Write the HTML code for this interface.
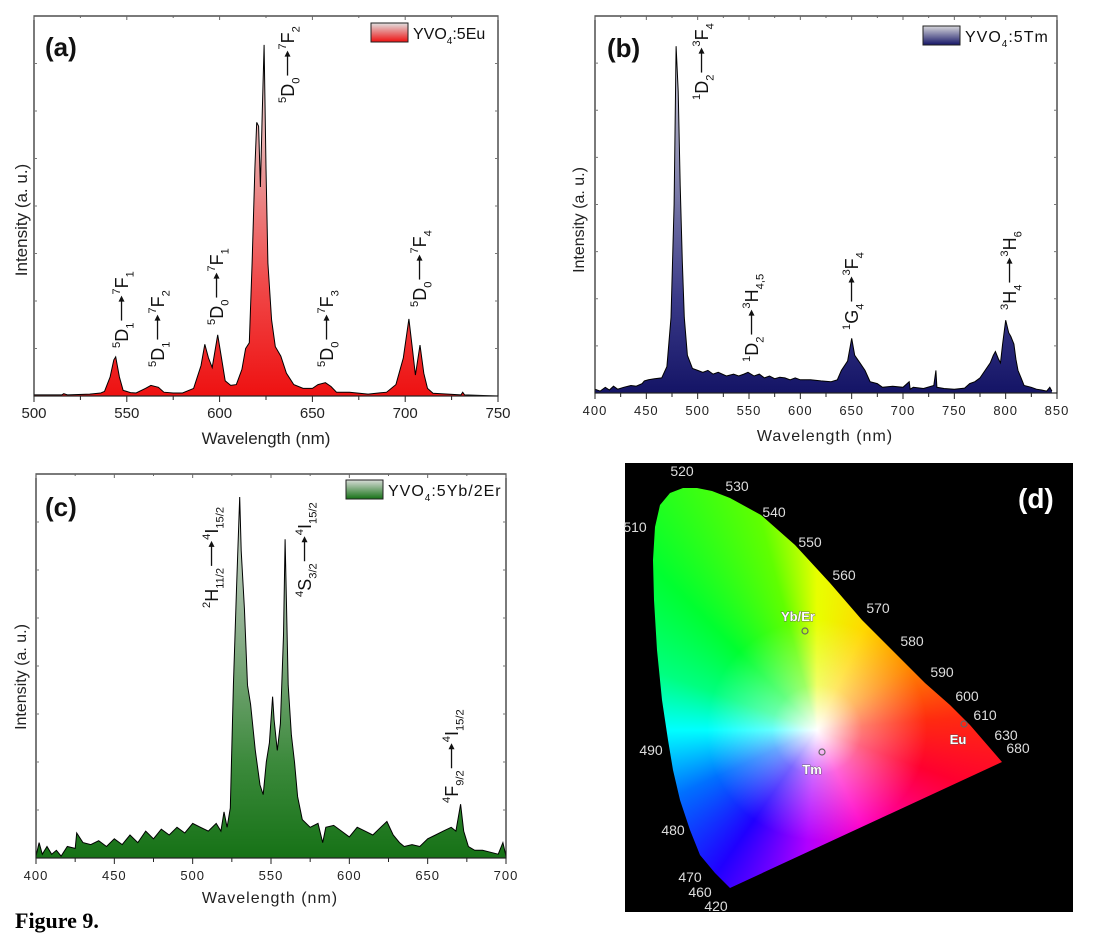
<!DOCTYPE html>
<html><head><meta charset="utf-8">
<style>
html,body{margin:0;padding:0;background:#fff;}
#wrap{position:relative;width:1118px;height:946px;overflow:hidden;}
#cie-bg{position:absolute;left:625px;top:463px;width:448px;height:449px;background:#000;}
#cie-gamut{position:absolute;left:625px;top:463px;width:448px;height:449px;
 background:radial-gradient(circle at 192px 267px, rgba(255,255,255,1) 0px, rgba(255,255,255,0.85) 12px, rgba(255,255,255,0.4) 45px, rgba(255,255,255,0) 110px),
 conic-gradient(from 0deg at 192px 267px, #e8ff00 0deg, #ffd800 25deg, #ff8a00 55deg, #ff2a10 85deg, #ff0030 110deg, #ff00c8 155deg, #b000ff 185deg, #2000ff 215deg, #0070ff 245deg, #00ffff 270deg, #00ff80 290deg, #00ff30 315deg, #60ff00 345deg, #e8ff00 360deg);}
svg{position:absolute;left:0;top:0;}
text{font-family:"Liberation Sans",sans-serif;}
</style></head>
<body>
<div id="wrap">
<div id="cie-bg"></div>
<div id="cie-gamut"></div>
<svg id="svg" width="1118" height="946" viewBox="0 0 1118 946" xmlns="http://www.w3.org/2000/svg">
<defs>
<linearGradient id="gA" gradientUnits="userSpaceOnUse" x1="0" y1="16" x2="0" y2="396">
<stop offset="0" stop-color="#e6e6e6"/><stop offset="0.35" stop-color="#e8a8a8"/><stop offset="0.7" stop-color="#f04a4a"/><stop offset="1" stop-color="#ee1111"/></linearGradient>
<linearGradient id="gB" gradientUnits="userSpaceOnUse" x1="0" y1="16" x2="0" y2="393">
<stop offset="0" stop-color="#e0e0e4"/><stop offset="0.4" stop-color="#8a8ab0"/><stop offset="0.75" stop-color="#3a3a88"/><stop offset="1" stop-color="#141466"/></linearGradient>
<linearGradient id="gC" gradientUnits="userSpaceOnUse" x1="0" y1="474" x2="0" y2="858">
<stop offset="0" stop-color="#e2e6e2"/><stop offset="0.4" stop-color="#8fb08f"/><stop offset="0.75" stop-color="#3c8a3c"/><stop offset="1" stop-color="#167216"/></linearGradient>
<linearGradient id="lA" x1="0" y1="0" x2="0" y2="1"><stop offset="0" stop-color="#e0e0e0"/><stop offset="1" stop-color="#ee1111"/></linearGradient>
<linearGradient id="lB" x1="0" y1="0" x2="0" y2="1"><stop offset="0" stop-color="#d8d8dc"/><stop offset="1" stop-color="#141466"/></linearGradient>
<linearGradient id="lC" x1="0" y1="0" x2="0" y2="1"><stop offset="0" stop-color="#d8dcd8"/><stop offset="1" stop-color="#167216"/></linearGradient>
</defs>
<g id="layer"></g>
</svg>
</div>
<script>
// ---- Panel (a) data: YVO4:5Eu ----
const euWl=[500,515,516,518,530,536,538,541,543,544,546,548,552,555,560,563,567,570,575,580,586,590,592,594,596,599,601,603,606,609,612,614,616,617.5,619,620,621,622,623,624,625,626,628,630,633,636,640,645,650,653,657,660,663,670,680,690,695,699,702,704,705.5,708,710,712,715,730,731,732,750];
const euI=[0.3,0.3,0.6,0.3,0.5,0.8,1.2,5,9.5,10.3,5,1.5,0.9,0.8,2,2.8,2.3,1,0.8,0.8,2,8,13.6,10,7.5,16.1,10,4,2.8,3,7,12.5,14,35,60,72,71,55,75,92.4,60,35,20,13,10.5,6,3,2,2,3,3.5,2.5,1,1,0.5,1,3,10,20.3,12,5.5,13.4,6,2,0.7,0.3,1,0.3,0];
const euTicks=[500,550,600,650,700,750];
// ---- Panel (b) data: YVO4:5Tm ----
const tmWl=[400,405,410,414,418,422,428,435,440,446,448,452,458,465,470,474,477,479,481,483,485,487,490,495,500,505,510,515,520,528,535,540,545,549,555,560,565,570,575,580,585,590,595,600,610,620,630,636,640,646,650,653,658,663,668,675,680,690,700,706,707,710,720,730,732,733,740,750,760,765,770,775,780,785,788,790,793,795,797,800,803,805,808,810,812,815,818,825,830,835,840,843,845];
const tmI=[1,0.5,1.5,0.8,1.8,1,1.5,2,1.8,2.5,3.2,3.5,3.8,4,7,20,50,92,80,55,35,20,10,6.5,6,5.5,6,5,5.5,4.5,5,4.5,5,5.5,4.5,5,4,4.5,3.8,4.2,4,3.5,4,3.5,3.5,3.2,3,3.5,6,8.5,14.5,10,8,6,3,2.5,1.5,1.8,1.5,3,1,1.5,1.2,2,6,1.5,1.2,1,1.3,2.5,3,4,6,8,10,11,9,8,13,19.3,16,15,13,9,6,4,2,1.5,1,0.8,0.5,1.5,0.5];
const tmTicks=[400,450,500,550,600,650,700,750,800,850];
// ---- Panel (c) data: YVO4:5Yb/2Er ----
const erWl=[400,402,404,407,410,413,416,420,425,426,430,435,440,445,450,455,460,465,470,475,480,485,490,495,500,505,510,515,518,520,522,524,526,528,530,531,533,535,537,540,543,545,547,549,551,552,554,556,558,559,561,563,565,567,570,575,580,583,585,590,595,600,605,610,615,620,624,628,632,635,640,645,650,655,660,665,668,671,673,676,680,685,690,695,698,700];
const erI=[0.5,4,1,3,1,2,0.5,3,2.5,6.5,4,3.5,4.5,3,5,3.5,6,4,7,5,7.5,6,8,6.5,9,8,7,9,7,12,8,13,45,70,94,80,65,45,40,28,19,16.5,25,30,42,36,28,35,58,83,45,32,25,16,10,8,9,4,8,8.5,7,5.5,8,7,6,8,9.5,6,4,3,3.5,3,5,6,7,8,7,14,7,3,2,2,1.5,1,4,0.5];
const erTicks=[400,450,500,550,600,650,700];

const NS='http://www.w3.org/2000/svg';
const layer=document.getElementById('layer');
function el(tag,attrs,parent){const e=document.createElementNS(NS,tag);for(const k in attrs)e.setAttribute(k,attrs[k]);(parent||layer).appendChild(e);return e;}

function panel(cfg){
  const g=el('g',{});
  
  
  const {x0,x1,y0,y1,xmin,xmax,ymax}=cfg;
  const sx=v=>x0+(v-xmin)/(xmax-xmin)*(x1-x0);
  const sy=v=>y1-v/ymax*(y1-y0);
  let d='M'+sx(cfg.wl[0])+','+y1;
  let l='';
  cfg.wl.forEach((w,i)=>{d+=' L'+sx(w).toFixed(1)+','+sy(cfg.I[i]).toFixed(1);l+=(i?' L':'M')+sx(w).toFixed(1)+','+sy(cfg.I[i]).toFixed(1);});
  d+=' L'+sx(cfg.wl[cfg.wl.length-1])+','+y1+' Z';
  const area=el('path',{d:d,fill:cfg.fill,stroke:'none'},g);
  
  
  const line=el('path',{d:l,fill:'none',stroke:'#000','stroke-width':'1'},g);
  
  
  const fr=el('rect',{x:x0,y:y0,width:x1-x0,height:y1-y0,fill:'none',stroke:'#222','stroke-width':'1.2'},g);
  
  
  const step=cfg.ticks[1]-cfg.ticks[0];
  for(let v=xmin;v<=xmax+0.01;v+=step/2){
    const major=Math.abs((v-xmin)%step)<0.01;
    el('line',{x1:sx(v),x2:sx(v),y1:y1,y2:y1+(major?6:4),stroke:'#222','stroke-width':'1'},g);
    el('line',{x1:sx(v),x2:sx(v),y1:y0,y2:y0+(major?4:2),stroke:'#666','stroke-width':'1'},g);
  }
  for(let k=1;k<8;k++){const yy=y1-k*(y1-y0)/8;
    el('line',{x1:x0,x2:x0+3,y1:yy,y2:yy,stroke:'#777','stroke-width':'1'},g);
    el('line',{x1:x1,x2:x1-3,y1:yy,y2:yy,stroke:'#777','stroke-width':'1'},g);}
  cfg.ticks.forEach(v=>{
    const t=el('text',{x:sx(v),y:y1+22,'text-anchor':'middle','font-size':cfg.tfs,fill:'#222','letter-spacing':cfg.ls},g);
    t.textContent=v;
    
    
  });
  const xt=el('text',{x:cfg.xtx,y:cfg.xty,'text-anchor':'middle','font-size':cfg.afs,fill:'#222','letter-spacing':cfg.ls},g);
  xt.textContent='Wavelength (nm)';
  
  
  const yt=el('text',{x:0,y:0,'text-anchor':'middle','font-size':cfg.afs,fill:'#222',transform:'translate('+cfg.ytx+','+cfg.yty+') rotate(-90)'},g);
  yt.textContent='Intensity (a. u.)';
  
  
  const pl=el('text',{x:cfg.plx,y:cfg.ply,'font-size':'26','font-weight':'bold',fill:'#111'},g);
  pl.textContent=cfg.letter;
  
  
  const lg=el('g',{},g);
  
  
  el('rect',{x:cfg.lgx,y:cfg.lgy,width:37,height:19,fill:cfg.lfill,stroke:'#222','stroke-width':'1'},lg);
  const lt=el('text',{x:cfg.lgx+42,y:cfg.lgy+16,'font-size':'16',fill:'#111','letter-spacing':cfg.ls},lg);
  lt.innerHTML='YVO<tspan font-size="10" dy="5">4</tspan><tspan dy="-5">'+cfg.legend+'</tspan>';
  return g;
}

function label(parent,x,y,left,right,fs,name){
  const g=el('g',{transform:'translate('+x+','+y+') rotate(-90)'},parent);
  
  
  function txt(parts,xs){
    const t=el('text',{x:xs,y:0,'font-size':fs,fill:'#111'},g);
    let cur=0;
    parts.forEach(p=>{
      const ts=document.createElementNS(NS,'tspan');
      let target=p[1]==='sup'?-fs*0.45:(p[1]==='sub'?fs*0.3:0);
      ts.setAttribute('dy',target-cur);cur=target;
      if(p[1])ts.setAttribute('font-size',fs*0.62);
      ts.textContent=p[0];t.appendChild(ts);
    });
    return t;
  }
  const t1=txt(left,0);
  const w=t1.getComputedTextLength()+2;
  const ay=-fs*0.36;
  el('line',{x1:w,x2:w+20,y1:ay,y2:ay,stroke:'#111','stroke-width':'1.3'},g);
  el('polygon',{points:(w+19)+','+(ay-3)+' '+(w+25)+','+ay+' '+(w+19)+','+(ay+3),fill:'#111'},g);
  txt(right,w+26);
}

const pa=panel({name:'panel-a-eu-spectrum',x0:34,x1:498,y0:16,y1:396,xmin:500,xmax:750,ymax:100,wl:euWl,I:euI,fill:'url(#gA)',ticks:euTicks,tfs:15,afs:17,ls:0,xtx:266,xty:444,ytx:27,yty:220,plx:45,ply:56,letter:'(a)',lgx:371,lgy:23,lfill:'url(#lA)',legend:':5Eu'});
const pb=panel({name:'panel-b-tm-spectrum',x0:595,x1:1057,y0:16,y1:393,xmin:400,xmax:850,ymax:100,wl:tmWl,I:tmI,fill:'url(#gB)',ticks:tmTicks,tfs:13,afs:16,ls:1,xtx:825,xty:441,ytx:584,yty:220,plx:607,ply:57,letter:'(b)',lgx:923,lgy:26,lfill:'url(#lB)',legend:':5Tm'});
const pc=panel({name:'panel-c-yb-er-spectrum',x0:36,x1:506,y0:474,y1:858,xmin:400,xmax:700,ymax:100,wl:erWl,I:erI,fill:'url(#gC)',ticks:erTicks,tfs:13,afs:16,ls:1,xtx:270,xty:903,ytx:26,yty:677,plx:45,ply:516,letter:'(c)',lgx:346,lgy:480,lfill:'url(#lC)',legend:':5Yb/2Er'});

const LF=18;
label(pa,128,348,[['5','sup'],['D',''],['1','sub']],[['7','sup'],['F',''],['1','sub']],LF,'transition-label');
label(pa,164,367,[['5','sup'],['D',''],['1','sub']],[['7','sup'],['F',''],['2','sub']],LF,'transition-label');
label(pa,223,325,[['5','sup'],['D',''],['0','sub']],[['7','sup'],['F',''],['1','sub']],LF,'transition-label');
label(pa,294,103,[['5','sup'],['D',''],['0','sub']],[['7','sup'],['F',''],['2','sub']],LF,'transition-label');
label(pa,333,367,[['5','sup'],['D',''],['0','sub']],[['7','sup'],['F',''],['3','sub']],LF,'transition-label');
label(pa,426,307,[['5','sup'],['D',''],['0','sub']],[['7','sup'],['F',''],['4','sub']],LF,'transition-label');
label(pb,708,100,[['1','sup'],['D',''],['2','sub']],[['3','sup'],['F',''],['4','sub']],LF,'transition-label');
label(pb,758,362,[['1','sup'],['D',''],['2','sub']],[['3','sup'],['H',''],['4,5','sub']],LF,'transition-label');
label(pb,858,330,[['1','sup'],['G',''],['4','sub']],[['3','sup'],['F',''],['4','sub']],LF,'transition-label');
label(pb,1016,310,[['3','sup'],['H',''],['4','sub']],[['3','sup'],['H',''],['6','sub']],LF,'transition-label');
label(pc,218,608,[['2','sup'],['H',''],['11/2','sub']],[['4','sup'],['I',''],['15/2','sub']],LF,'transition-label');
label(pc,311,597,[['4','sup'],['S',''],['3/2','sub']],[['4','sup'],['I',''],['15/2','sub']],LF,'transition-label');
label(pc,458,803,[['4','sup'],['F',''],['9/2','sub']],[['4','sup'],['I',''],['15/2','sub']],LF,'transition-label');

// ---- Panel (d): CIE diagram ----
const cieBox=[625,463];
const locus=[[730,888],[715,873],[700,855],[690,830],[680,800],[673,770],[668,740],[662,700],[657,650],[654,600],[653,560],[655,527],[660,505],[670,493],[683,488],[697,488],[712,491],[730,498],[761,515],[795,545],[830,583],[862,620],[897,655],[925,683],[950,705],[970,725],[1002,762]];
document.getElementById('cie-gamut').style.clipPath='polygon('+locus.map(p=>(p[0]-cieBox[0])+'px '+(p[1]-cieBox[1])+'px').join(',')+')';
const wlLabels=['520','530','540','550','560','570','580','590','600','610','630','680','510','490','480','470','460','420'];
const wlPos=[[682,476],[737,491],[774,517],[810,547],[844,580],[878,613],[912,646],[942,677],[967,701],[985,720],[1006,740],[1018,753],[635,532],[651,755],[673,835],[690,882],[700,897],[716,911]];
const gd=el('g',{});


wlLabels.forEach((s,i)=>{
  const t=el('text',{x:wlPos[i][0],y:wlPos[i][1],'text-anchor':'middle','font-size':'14',fill:'#ddd'},gd);
  t.textContent=s;
  
  
});
const pts=[['Yb/Er',805,631,798,621],['Tm',822,752,812,774],['Eu',964,724,958,744]];
pts.forEach(p=>{
  const c=el('circle',{cx:p[1],cy:p[2],r:3,fill:'none',stroke:'#666','stroke-width':'1.2'},gd);
  
  
  const t=el('text',{x:p[3],y:p[4],'text-anchor':'middle','font-size':'13','font-weight':'bold',fill:'#fff',stroke:'#555','stroke-width':'0.8','paint-order':'stroke'},gd);
  t.textContent=p[0];
  
  
});
const dl=el('text',{x:1018,y:508,'font-size':'28','font-weight':'bold',fill:'#fff'},gd);
dl.textContent='(d)';



const fig=el('text',{x:15,y:928,'font-size':'22','font-weight':'bold',fill:'#000',style:'font-family:"Liberation Serif",serif'});
fig.textContent='Figure 9.';


</script>
</body></html>
